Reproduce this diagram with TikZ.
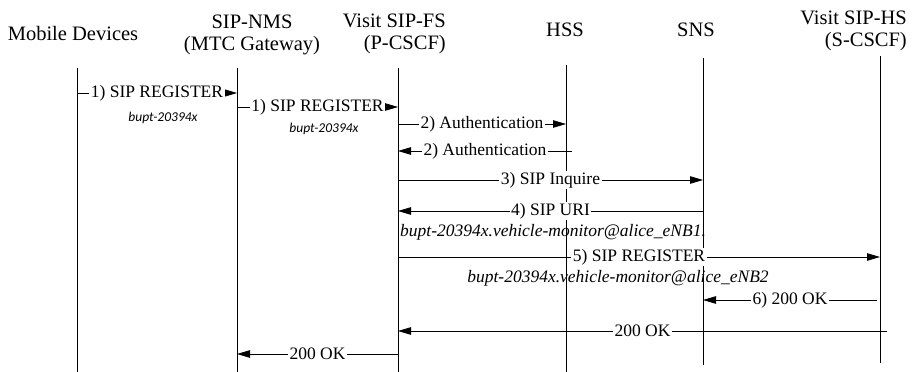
\documentclass[tikz,border=0pt]{standalone}
\usepackage{fontspec}
\setmainfont{Liberation Serif}
\newfontfamily\tagfont{Carlito}
\usetikzlibrary{arrows.meta}

\begin{document}
\begin{tikzpicture}[x=1pt, y=-1pt,
	head/.style={inner sep=0pt, font=\fontsize{20.5}{22}\selectfont},
	life/.style={draw=black, line width=0.8pt},
	msg/.style={draw=black, line width=0.8pt, -{Triangle[length=13pt,width=7.5pt]}},
	lbl/.style={fill=white, inner xsep=1.5pt, inner ysep=1pt, font=\fontsize{17.5}{20}\selectfont},
	uri/.style={inner sep=0pt, font=\fontsize{17.5}{20}\selectfont\itshape},
	tag/.style={inner sep=0pt, font=\tagfont\fontsize{13.5}{15}\selectfont\itshape}]
			\useasboundingbox (0,0) rectangle (914,372);
			
			% entities
			\node[head] (md) at (73,33) {Mobile Devices};
			\node[head, align=center] (nms) at (252,35) {SIP-NMS\\(MTC Gateway)};
			\node[head, align=right, anchor=east] (pcscf) at (446,34) {Visit SIP-FS\\(P-CSCF)};
			\node[head] (hss) at (565,30) {HSS};
			\node[head] (sns) at (696,30) {SNS};
			\node[head, align=right, anchor=east] (scscf) at (907,31) {Visit SIP-HS\\(S-CSCF)};
			
			% lifelines
			\coordinate (md-t) at (77,68);    \coordinate (md-b) at (77,372);
			\coordinate (nms-t) at (237,68);  \coordinate (nms-b) at (237,372);
			\coordinate (pc-t) at (398,68);   \coordinate (pc-b) at (398,372);
			\coordinate (hss-t) at (566,65);  \coordinate (hss-b) at (566,372);
			\coordinate (sns-t) at (703,58);  \coordinate (sns-b) at (703,365);
			\coordinate (sc-t) at (880,56);   \coordinate (sc-b) at (880,363);
			
			\path (md-t) edge[life] (md-b);
			\path (nms-t) edge[life] (nms-b);
			\path (pc-t) edge[life] (pc-b);
			\path (hss-t) edge[life] (hss-b);
			\path (sns-t) edge[life] (sns-b);
			\path (sc-t) edge[life] (sc-b);
			
			% message ends
			\coordinate (a1) at (77,93);   \coordinate (b1) at (237,93);
			\coordinate (a2) at (237,107); \coordinate (b2) at (398,107);
			\coordinate (a3) at (398,124); \coordinate (b3) at (566,124);
			\coordinate (a4) at (572,151); \coordinate (b4) at (398,151);
			\coordinate (a5) at (398,180); \coordinate (b5) at (703,180);
			\coordinate (a6) at (703,211); \coordinate (b6) at (398,211);
			\coordinate (a7) at (398,257); \coordinate (b7) at (880,257);
			\coordinate (a8) at (877,300); \coordinate (b8) at (703,300);
			\coordinate (a9) at (887,331); \coordinate (b9) at (398,331);
			\coordinate (a10) at (398,354); \coordinate (b10) at (237,354);
			
			\path (a1) edge[msg] node[lbl] {1) SIP REGISTER} (b1);
			\path (a2) edge[msg] node[lbl] {1) SIP REGISTER} (b2);
			\path (a3) edge[msg] node[lbl] {2) Authentication} (b3);
			\path (a4) edge[msg] node[lbl] {2) Authentication} (b4);
			\path (a5) edge[msg] node[lbl] {3) SIP Inquire} (b5);
			\path (a6) edge[msg] node[lbl] {4) SIP URI} (b6);
			\path (a7) edge[msg] node[lbl] {5) SIP REGISTER} (b7);
			\path (a8) edge[msg] node[lbl] {6) 200 OK} (b8);
			\path (a9) edge[msg] node[lbl] {200 OK} (b9);
			\path (a10) edge[msg] node[lbl] {200 OK} (b10);
			
			% identifiers
			\node[tag] (id1) at (163,118) {bupt-20394x};
			\node[tag] (id2) at (324,129) {bupt-20394x};
			\node[uri, anchor=west] (uri1) at (400,232) {bupt-20394x.vehicle-monitor@alice\_eNB1.};
			\node[uri] (uri2) at (618,278) {bupt-20394x.vehicle-monitor@alice\_eNB2};
			\end{tikzpicture}
\end{document}
